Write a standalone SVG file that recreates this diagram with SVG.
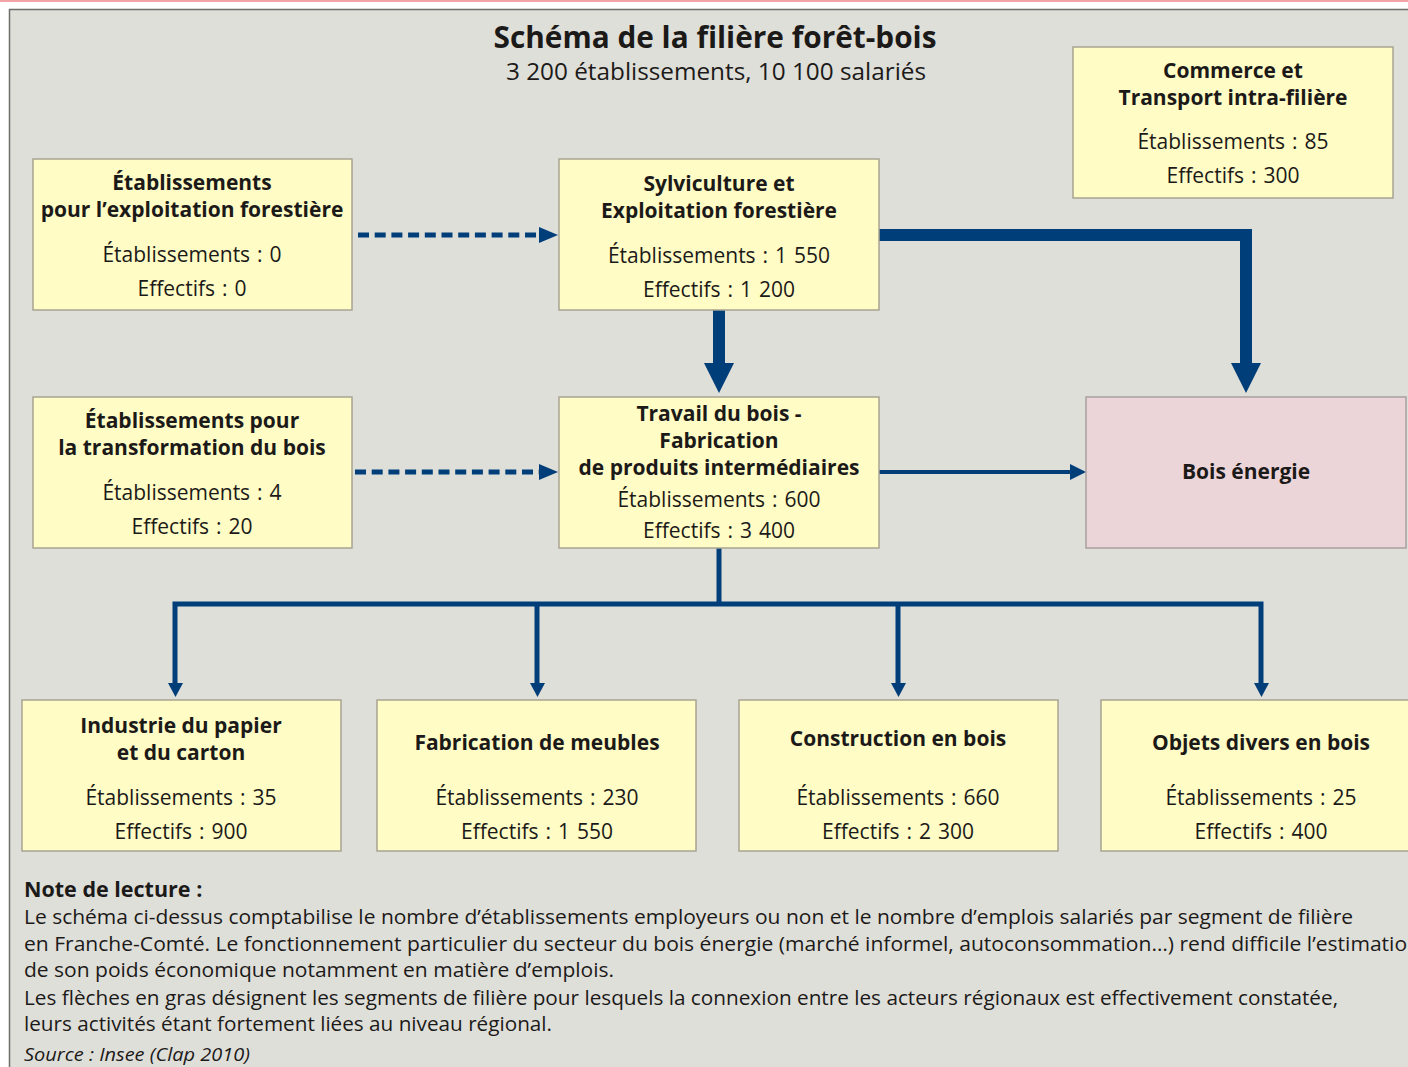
<svg xmlns="http://www.w3.org/2000/svg" width="1408" height="1067" viewBox="0 0 1408 1067">
<defs>
<style>
.bg{fill:#dfdfda;stroke:#6e6e6a;stroke-width:1.5}
.box{fill:#fffcc6;stroke:#a8a493;stroke-width:1.5}
.pink{fill:#ecd5d8;stroke:#a8a0a0;stroke-width:1.5}
text{font-family:"Open Sans","Liberation Sans",sans-serif;fill:#1c1a18;text-anchor:middle}
.h{font-size:21px;font-weight:bold}
.r{font-size:21px;word-spacing:1.5px}
.title{font-size:29.5px;font-weight:bold}
.sub{font-size:23.5px}
.note{font-size:20.5px;text-anchor:start}
.nh{font-size:21.5px;font-weight:bold;text-anchor:start}
.src{font-size:19px;font-style:italic;text-anchor:start}
.thick{stroke:#003e7a;stroke-width:12;fill:none}
.mid{stroke:#003e7a;stroke-width:4;fill:none}
.tree{stroke:#003e7a;stroke-width:5;fill:none}
.dash{stroke:#003e7a;stroke-width:5;fill:none;stroke-dasharray:11 5.7}
.head{fill:#003e7a}
</style>
</defs>
<rect x="0" y="0" width="1408" height="2" fill="#f4a4a6"/>
<rect class="bg" x="9.5" y="9.5" width="1420" height="1070"/>
<text class="title" x="715" y="48" textLength="443" lengthAdjust="spacingAndGlyphs">Schéma de la filière forêt-bois</text>
<text class="sub" x="716" y="80" textLength="420" lengthAdjust="spacingAndGlyphs">3 200 établissements, 10 100 salariés</text>

<g id="connectors">
<line class="dash" x1="358" y1="235" x2="540" y2="235"/>
<polygon class="head" points="539,227 558,235 539,243"/>
<line class="dash" x1="355" y1="472" x2="540" y2="472"/>
<polygon class="head" points="539,464 558,472 539,480"/>
<polyline class="thick" points="879,235 1246,235 1246,365"/>
<polygon class="head" points="1231,363 1261,363 1246,393"/>
<line class="thick" x1="719" y1="310" x2="719" y2="365"/>
<polygon class="head" points="704,363 734,363 719,393"/>
<line class="mid" x1="879" y1="472" x2="1072" y2="472"/>
<polygon class="head" points="1070,464 1086,472 1070,480"/>
<polyline class="tree" points="719,548 719,604"/>
<polyline class="tree" points="175,685 175,604 1261,604 1261,685"/>
<line class="tree" x1="537" y1="604" x2="537" y2="685"/>
<line class="tree" x1="898" y1="604" x2="898" y2="685"/>
<polygon class="head" points="168,683 183,683 175.5,697"/>
<polygon class="head" points="530,683 545,683 537.5,697"/>
<polygon class="head" points="891,683 906,683 898.5,697"/>
<polygon class="head" points="1254,683 1269,683 1261.5,697"/>
</g>

<g id="n-exploit">
<rect class="box" x="33" y="159" width="319" height="151"/>
<text class="h" x="192" y="190">Établissements</text>
<text class="h" x="192" y="217">pour l’exploitation forestière</text>
<text class="r" x="192" y="262">Établissements : 0</text>
<text class="r" x="192" y="296">Effectifs : 0</text>
</g>
<g id="n-sylv">
<rect class="box" x="559" y="159" width="320" height="151"/>
<text class="h" x="719" y="191">Sylviculture et</text>
<text class="h" x="719" y="218">Exploitation forestière</text>
<text class="r" x="719" y="263">Établissements : 1 550</text>
<text class="r" x="719" y="297">Effectifs : 1 200</text>
</g>
<g id="n-commerce">
<rect class="box" x="1073" y="47" width="320" height="151"/>
<text class="h" x="1233" y="78">Commerce et</text>
<text class="h" x="1233" y="105">Transport intra-filière</text>
<text class="r" x="1233" y="149">Établissements : 85</text>
<text class="r" x="1233" y="183">Effectifs : 300</text>
</g>
<g id="n-transfo">
<rect class="box" x="33" y="397" width="319" height="151"/>
<text class="h" x="192" y="428">Établissements pour</text>
<text class="h" x="192" y="455">la transformation du bois</text>
<text class="r" x="192" y="500">Établissements : 4</text>
<text class="r" x="192" y="534">Effectifs : 20</text>
</g>
<g id="n-travail">
<rect class="box" x="559" y="397" width="320" height="151"/>
<text class="h" x="719" y="421">Travail du bois -</text>
<text class="h" x="719" y="448">Fabrication</text>
<text class="h" x="719" y="475">de produits intermédiaires</text>
<text class="r" x="719" y="507">Établissements : 600</text>
<text class="r" x="719" y="538">Effectifs : 3 400</text>
</g>
<g id="n-energie">
<rect class="pink" x="1086" y="397" width="320" height="151"/>
<text class="h" x="1246" y="479">Bois énergie</text>
</g>
<g id="n-papier">
<rect class="box" x="22" y="700" width="319" height="151"/>
<text class="h" x="181" y="733">Industrie du papier</text>
<text class="h" x="181" y="760">et du carton</text>
<text class="r" x="181" y="805">Établissements : 35</text>
<text class="r" x="181" y="839">Effectifs : 900</text>
</g>
<g id="n-meubles">
<rect class="box" x="377" y="700" width="319" height="151"/>
<text class="h" x="537" y="750">Fabrication de meubles</text>
<text class="r" x="537" y="805">Établissements : 230</text>
<text class="r" x="537" y="839">Effectifs : 1 550</text>
</g>
<g id="n-construction">
<rect class="box" x="739" y="700" width="319" height="151"/>
<text class="h" x="898" y="746">Construction en bois</text>
<text class="r" x="898" y="805">Établissements : 660</text>
<text class="r" x="898" y="839">Effectifs : 2 300</text>
</g>
<g id="n-objets">
<rect class="box" x="1101" y="700" width="320" height="151"/>
<text class="h" x="1261" y="750">Objets divers en bois</text>
<text class="r" x="1261" y="805">Établissements : 25</text>
<text class="r" x="1261" y="839">Effectifs : 400</text>
</g>

<g id="note">
<text class="nh" x="24" y="897">Note de lecture :</text>
<text class="note" x="24" y="924" textLength="1329" lengthAdjust="spacingAndGlyphs">Le schéma ci-dessus comptabilise le nombre d’établissements employeurs ou non et le nombre d’emplois salariés par segment de filière</text>
<text class="note" x="24" y="951" textLength="1396" lengthAdjust="spacingAndGlyphs">en Franche-Comté. Le fonctionnement particulier du secteur du bois énergie (marché informel, autoconsommation…) rend difficile l’estimation</text>
<text class="note" x="24" y="977" textLength="590" lengthAdjust="spacingAndGlyphs">de son poids économique notamment en matière d’emplois.</text>
<text class="note" x="24" y="1005" textLength="1314" lengthAdjust="spacingAndGlyphs">Les flèches en gras désignent les segments de filière pour lesquels la connexion entre les acteurs régionaux est effectivement constatée,</text>
<text class="note" x="24" y="1031" textLength="528" lengthAdjust="spacingAndGlyphs">leurs activités étant fortement liées au niveau régional.</text>
<text class="src" x="24" y="1061" textLength="226" lengthAdjust="spacingAndGlyphs">Source : Insee (Clap 2010)</text>
</g>
</svg>
